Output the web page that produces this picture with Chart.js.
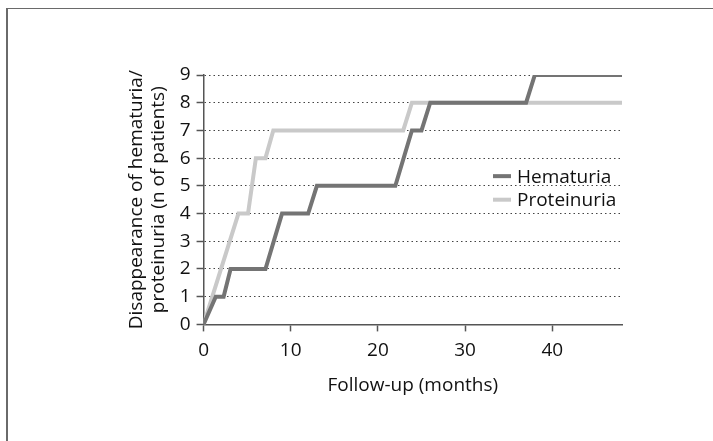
<!DOCTYPE html>
<html>
<head>
<meta charset="utf-8">
<script src="https://cdn.jsdelivr.net/npm/chart.js@4"></script>
<style>
  html, body { margin: 0; padding: 0; background: #fff; }
  #wrap { position: absolute; left: 0; top: 0; width: 713px; height: 441px; }
  #frame { position: absolute; left: 6px; top: 8px; width: 707px; height: 433px;
           border-top: 1px solid #6a6a6a; border-left: 2px solid #6a6a6a; box-sizing: border-box; }
</style>
</head>
<body>
<div id="wrap">
  <div id="frame"></div>
  <canvas id="fuChart" width="713" height="441"></canvas>
</div>
<script>
// months / number of patients
var hemMonths = [0, 1.4, 2.3, 3.1, 7.1, 9.0, 12.0, 13.0, 22.0, 23.9, 25.0, 26.0, 37.0, 38.0, 48];
var hemValues = [0, 1, 1, 2, 2, 4, 4, 5, 5, 7, 7, 8, 8, 9, 9];
var protMonths = [0, 4.0, 5.1, 6.0, 7.1, 8.0, 22.9, 23.9, 48];
var protValues = [0, 4, 4, 6, 6, 7, 7, 8, 8];
var seriesNames = ['Hematuria', 'Proteinuria'];
var seriesColors = ['#747474', '#c9c9c9'];
var xTicks = [0, 10, 20, 30, 40];
var yTicks = [0, 1, 2, 3, 4, 5, 6, 7, 8, 9];

function toPoints(xs, ys) {
    return xs.map(function(x, i) { return { x: x, y: ys[i] }; });
}

var fontFam = '"Open Sans", sans-serif';
var fontSize = 19;

// legend drawn inside the plot, right of the middle
var innerLegend = {
    id: 'innerLegend',
    afterDraw: function(chart) {
        var ctx = chart.ctx;
        var xs = chart.scales.x, ys = chart.scales.y;
        var x0 = xs.getPixelForValue(33.2);
        ctx.save();
        ctx.font = fontSize + 'px ' + fontFam;
        ctx.textBaseline = 'middle';
        chart.data.datasets.forEach(function(ds, i) {
            var y = ys.getPixelForValue(5.35 - i * 0.85);
            ctx.strokeStyle = ds.borderColor;
            ctx.lineWidth = 4;
            ctx.beginPath();
            ctx.moveTo(x0, y);
            ctx.lineTo(x0 + 18, y);
            ctx.stroke();
            ctx.fillStyle = '#111';
            ctx.fillText(ds.label, x0 + 24, y + 1);
        });
        ctx.restore();
    }
};

var ctx = document.getElementById('fuChart').getContext('2d');
var fuChart = new Chart(ctx, {
    type: 'line',
    data: {
        datasets: [{
            label: seriesNames[0],
            data: toPoints(hemMonths, hemValues),
            borderColor: seriesColors[0],
            borderWidth: 4,
            pointRadius: 0,
            tension: 0,
            order: 1
        }, {
            label: seriesNames[1],
            data: toPoints(protMonths, protValues),
            borderColor: seriesColors[1],
            borderWidth: 4,
            pointRadius: 0,
            tension: 0,
            order: 2
        }]
    },
    options: {
        responsive: false,
        animation: false,
        layout: { padding: { left: 126, top: 75, right: 91, bottom: 44 } },
        plugins: {
            legend: { display: false },
            tooltip: { enabled: false }
        },
        scales: {
            x: {
                type: 'linear',
                min: 0,
                max: 48,
                afterBuildTicks: function(scale) {
                    scale.ticks = xTicks.map(function(v) { return { value: v }; });
                },
                ticks: { color: '#111', font: { family: fontFam, size: fontSize }, padding: 8 },
                grid: { drawOnChartArea: false, tickLength: 7, tickColor: '#555', tickWidth: 1.5 },
                border: { color: '#555', width: 1.5 },
                title: {
                    display: true,
                    text: 'Follow-up (months)',
                    color: '#111',
                    font: { family: fontFam, size: fontSize },
                    padding: { top: 4, bottom: 0 }
                }
            },
            y: {
                min: 0,
                max: 9,
                afterBuildTicks: function(scale) {
                    scale.ticks = yTicks.map(function(v) { return { value: v }; });
                },
                ticks: { color: '#111', font: { family: fontFam, size: fontSize }, padding: 6 },
                grid: {
                    color: '#444',
                    lineWidth: 1,
                    tickLength: 7,
                    tickColor: '#555',
                    tickWidth: 1.5,
                    tickBorderDash: []
                },
                border: { color: '#555', width: 1.5, dash: [1.5, 3] },
                title: {
                    display: true,
                    text: ['Disappearance of hematuria/', 'proteinuria (n of patients)'],
                    color: '#111',
                    font: { family: fontFam, size: fontSize, lineHeight: 1.15 },
                    padding: { top: 0, bottom: 4 }
                }
            }
        }
    },
    plugins: [innerLegend]
});
</script>
</body>
</html>
